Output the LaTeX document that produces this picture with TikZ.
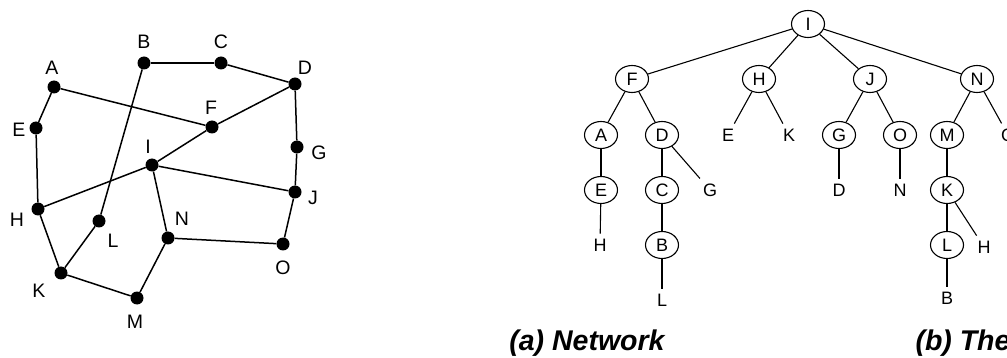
\documentclass[tikz,border=0pt]{standalone}
\usepackage{fontspec}
\setmainfont{Liberation Sans}
\usepackage{tikz}
\usetikzlibrary{shapes.geometric,positioning}

\begin{document}
\begin{tikzpicture}[x=1pt, y=-1pt,
    dot/.style={circle, fill=black, inner sep=0pt, minimum size=13pt},
    lbl/.style={inner sep=0pt, font=\fontsize{19.5}{22}\selectfont},
    edge/.style={line width=1.5pt},
    vertex/.style={ellipse, draw, line width=1.1pt, inner sep=0pt, minimum width=33pt, minimum height=27pt, font=\fontsize{18}{20}\selectfont},
    leaf/.style={inner sep=5pt, font=\fontsize{18}{20}\selectfont},
    branch/.style={line width=1.1pt},
    caption/.style={font=\fontsize{28.5}{32}\selectfont\bfseries\itshape}]
    \useasboundingbox (0,0) rectangle (1007,358);

    % Network: vertices with their letters
    \foreach \n/\x/\y/\lx/\ly in {B/144/63/144/42, C/221/63/221/42, D/295/84/305/68,
        A/54/87/52/68, F/212/127/211/108, E/36/128/19/130, G/297/147/319/153,
        I/152/165/148/147, J/295/192/313/198, H/38/209/17/220, L/99/221/113/241,
        N/168/238/182/219, O/283/244/283/268, K/61/273/39/291, M/137/298/135/322} {
        \node[dot] (n\n) at (\x,\y) {};
        \node[lbl] (l\n) at (\lx,\ly) {\n};
    }

    % Network links
    \foreach \a/\b in {B/C, C/D, D/G, G/J, J/O, O/N, N/M, M/K, K/H, H/E, E/A,
        A/F, F/D, F/I, I/H, I/J, I/N, B/L, L/K} {
        \draw[edge] (n\a) -- (n\b);
    }

    % Spanning tree rooted at I
    \node[vertex] (tI) at (808,24) {I};
    \node[vertex] (tF) at (632,79) {F};
    \node[vertex] (tH) at (759,79) {H};
    \node[vertex] (tJ) at (870,79) {J};
    \node[vertex] (tN) at (977,79) {N};

    \node[vertex] (tA) at (601,135) {A};
    \node[vertex] (tD) at (662,135) {D};
    \node[leaf] (lfE) at (728,135) {E};
    \node[leaf] (lfK) at (789,135) {K};
    \node[vertex] (tG) at (839,135) {G};
    \node[vertex] (tO) at (900,135) {O};
    \node[vertex] (tM) at (947,135) {M};
    \node[leaf] (lfO) at (1008,135) {O};

    \node[vertex] (tE) at (601,190) {E};
    \node[vertex] (tC) at (662,190) {C};
    \node[leaf] (lfG) at (710,190) {G};
    \node[leaf] (lfD) at (839,190) {D};
    \node[leaf] (lfN) at (900,190) {N};
    \node[vertex] (tK) at (947,190) {K};

    \node[leaf] (lfHa) at (600,245) {H};
    \node[vertex] (tB) at (662,245) {B};
    \node[vertex] (tL) at (947,245) {L};
    \node[leaf] (lfHb) at (984,247) {H};

    \node[leaf] (lfL) at (662,300) {L};
    \node[leaf] (lfB) at (947,298) {B};

    % Tree branches
    \foreach \a/\b in {tI/tF, tI/tH, tI/tJ, tI/tN, tF/tA, tF/tD, tH/lfE, tH/lfK,
        tJ/tG, tJ/tO, tN/tM, tN/lfO, tA/tE, tD/tC, tD/lfG, tG/lfD, tO/lfN, tM/tK,
        tE/lfHa, tC/tB, tK/tL, tK/lfHb, tB/lfL, tL/lfB} {
        \draw[branch] (\a) -- (\b);
    }

    % Captions
    \node[caption, anchor=base] (capA) at (587,350) {(a) Network};
    \node[caption, anchor=base west] (capB) at (912,350) {(b) The};
\end{tikzpicture}
\end{document}
